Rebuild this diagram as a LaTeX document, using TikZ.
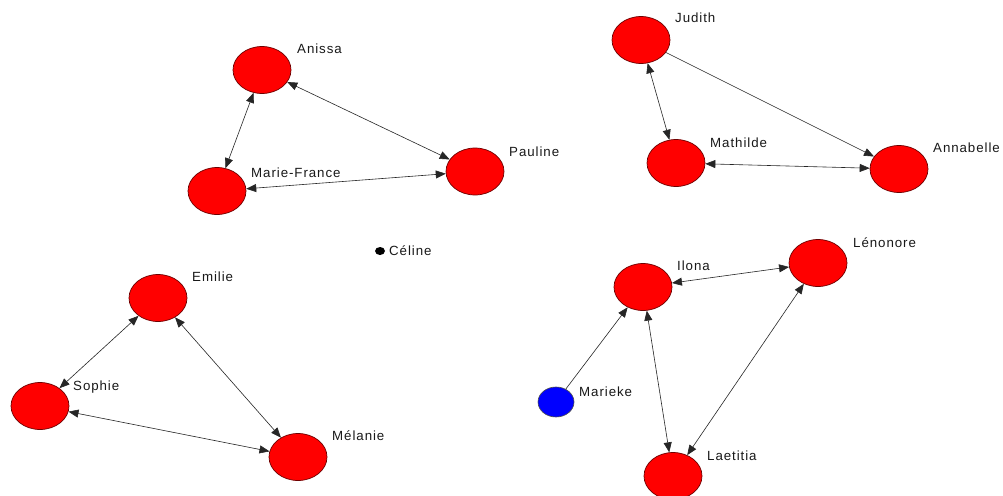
\documentclass[tikz,border=0pt]{standalone}
\usepackage{fontspec}
\setmainfont{Liberation Sans}[LetterSpace=7]
\usetikzlibrary{shapes.geometric,arrows.meta}
\definecolor{nodered}{RGB}{255,0,0}
\definecolor{nodeline}{RGB}{110,0,0}
\definecolor{nodeblue}{RGB}{0,0,255}
\tikzset{
  person/.style={ellipse,draw=nodeline,fill=nodered,line width=0.7pt,minimum width=58pt,minimum height=47pt,inner sep=0pt},
  smallblue/.style={ellipse,draw=black!70,fill=nodeblue,line width=0.6pt,minimum width=36pt,minimum height=30pt,inner sep=0pt},
  blackdot/.style={ellipse,fill=black,minimum width=10pt,minimum height=8pt,inner sep=0pt},
  personlabel/.style={anchor=base west,inner sep=0pt,font=\fontsize{13.3}{15}\selectfont,text=black!90},
  linkline/.style={line width=0.6pt,black!85},
  bidir/.style={linkline,{Triangle[length=10pt,width=8pt]}-{Triangle[length=10pt,width=8pt]}},
  unidir/.style={linkline,-{Triangle[length=10pt,width=8pt]}}
}
\begin{document}
\begin{tikzpicture}[x=1pt,y=-1pt]
\useasboundingbox[fill=white] (0,0) rectangle (1003,495);
% nodes
\node[person] (anissa) at (262,70) {};
\node[person] (mariefrance) at (217,191) {};
\node[person] (pauline) at (475,171.5) {};
\node[person] (judith) at (641,40) {};
\node[person] (mathilde) at (676,163) {};
\node[person] (annabelle) at (899,169) {};
\node[blackdot] (celine) at (380,251) {};
\node[person] (emilie) at (158,298) {};
\node[person] (sophie) at (40,406) {};
\node[person] (melanie) at (298,457) {};
\node[person] (ilona) at (643,287) {};
\node[person] (lenonore) at (818,263) {};
\node[person] (laetitia) at (673,476) {};
\node[smallblue] (marieke) at (556,402) {};
% labels
\node[personlabel] (lanissa) at (297,54) {Anissa};
\node[personlabel] (lmariefrance) at (251,177) {Marie-France};
\node[personlabel] (lpauline) at (509,156) {Pauline};
\node[personlabel] (ljudith) at (675,23) {Judith};
\node[personlabel] (lmathilde) at (710,147) {Mathilde};
\node[personlabel] (lannabelle) at (933,152) {Annabelle};
\node[personlabel] (lceline) at (389,255) {Céline};
\node[personlabel] (lemilie) at (192,281) {Emilie};
\node[personlabel] (lsophie) at (73,390) {Sophie};
\node[personlabel] (lmelanie) at (332,440) {Mélanie};
\node[personlabel] (lilona) at (677,270) {Ilona};
\node[personlabel] (llenonore) at (853,247) {Lénonore};
\node[personlabel] (llaetitia) at (707,460) {Laetitia};
\node[personlabel] (lmarieke) at (579,396) {Marieke};
% connectors
\draw[bidir] (anissa) -- (mariefrance);
\draw[bidir] (anissa) -- (pauline);
\draw[bidir] (mariefrance) -- (pauline);
\draw[bidir] (judith) -- (mathilde);
\draw[unidir] (judith) -- (annabelle);
\draw[bidir] (mathilde) -- (annabelle);
\draw[bidir] (emilie) -- (sophie);
\draw[bidir] (emilie) -- (melanie);
\draw[bidir] (sophie) -- (melanie);
\draw[bidir] (ilona) -- (lenonore);
\draw[bidir] (ilona) -- (laetitia);
\draw[bidir] (lenonore) -- (laetitia);
\draw[unidir] (marieke) -- (ilona);
\end{tikzpicture}
\end{document}
